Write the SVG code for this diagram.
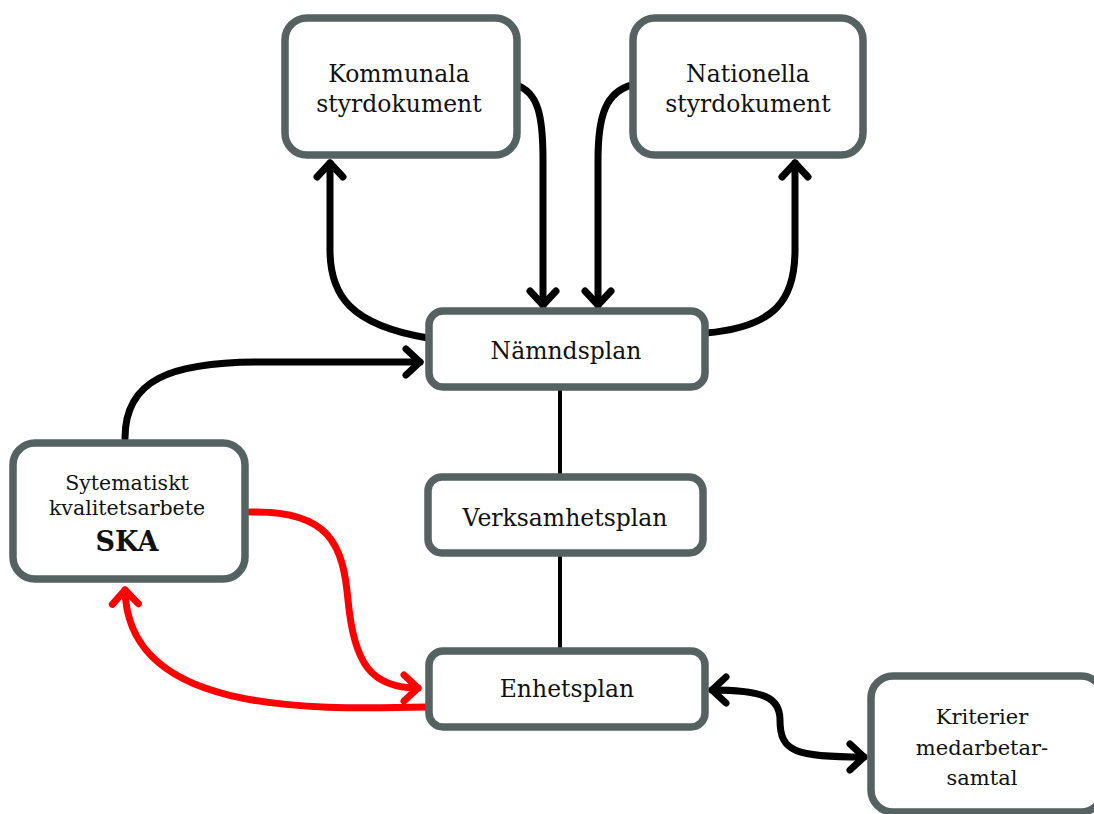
<svg xmlns="http://www.w3.org/2000/svg" width="1094" height="814" viewBox="0 0 1094 814">
<style>
.box{fill:#fff;stroke:#566161;stroke-width:7.5}
.t{font-family:"DejaVu Serif","Liberation Serif",serif;font-size:23.5px;fill:#111;text-anchor:middle}
.s{font-size:20.5px}
.b{font-weight:bold;font-size:27px}
.k{font-size:21px}
.c{fill:none;stroke:#000;stroke-width:7;stroke-linecap:round}
.r{stroke:#f00}
.l{fill:none;stroke:#000;stroke-width:4}
</style>
<defs>
<marker id="ak" markerUnits="userSpaceOnUse" viewBox="-25 -25 50 50" markerWidth="50" markerHeight="50" refX="0" refY="0" orient="auto-start-reverse" overflow="visible">
<path d="M-14,-13 L0,0 L-14,13" fill="none" stroke="#000" stroke-width="7" stroke-linecap="round" stroke-linejoin="round"/>
</marker>
<marker id="ar" markerUnits="userSpaceOnUse" viewBox="-25 -25 50 50" markerWidth="50" markerHeight="50" refX="0" refY="0" orient="auto-start-reverse" overflow="visible">
<path d="M-14,-13 L0,0 L-14,13" fill="none" stroke="#f00" stroke-width="7" stroke-linecap="round" stroke-linejoin="round"/>
</marker>
</defs>
<g id="connectors">
<path class="c" d="M516,85 C538,92 543,115 543,160 L543,305" marker-end="url(#ak)"/>
<path class="c" d="M632,85 C606,92 598,115 598,160 L598,305" marker-end="url(#ak)"/>
<path class="c" d="M428,338 C350,325 330,295 330,250 L330,163" marker-end="url(#ak)"/>
<path class="c" d="M706,333 C775,327 795,300 795,250 L795,163" marker-end="url(#ak)"/>
<path class="c" d="M125,438 C125,380 170,362 260,362 L420,362" marker-end="url(#ak)"/>
<path class="c r" d="M250,512 C330,510 343,545 348,600 C354,665 372,688 418,688" marker-end="url(#ar)"/>
<path class="c r" d="M428,707 C300,710 128,712 125,590" marker-end="url(#ar)"/>
<path class="l" d="M560,390 L560,475 M560,556 L560,649"/>
<path class="c" d="M712,690 C765,690 780,698 780,720 C780,752 795,757 864,757" marker-start="url(#ak)" marker-end="url(#ak)"/>
</g>
<g id="kommunala">
<rect class="box" x="285" y="18" width="232" height="137" rx="22"/>
<text class="t" x="399" y="82">Kommunala</text>
<text class="t" x="399" y="112">styrdokument</text>
</g>
<g id="nationella">
<rect class="box" x="633" y="18" width="230" height="137" rx="22"/>
<text class="t" x="748" y="82">Nationella</text>
<text class="t" x="748" y="112">styrdokument</text>
</g>
<g id="namndsplan">
<rect class="box" x="429" y="311" width="276" height="76" rx="14"/>
<text class="t" x="566" y="359">Nämndsplan</text>
</g>
<g id="verksamhetsplan">
<rect class="box" x="428" y="477" width="275" height="76" rx="14"/>
<text class="t" x="565" y="526">Verksamhetsplan</text>
</g>
<g id="enhetsplan">
<rect class="box" x="429" y="651" width="276" height="76" rx="14"/>
<text class="t" x="567" y="697">Enhetsplan</text>
</g>
<g id="ska">
<rect class="box" x="13" y="443" width="232" height="136" rx="22"/>
<text class="t s" x="127" y="490">Sytematiskt</text>
<text class="t s" x="127" y="515">kvalitetsarbete</text>
<text class="t b" x="127" y="551">SKA</text>
</g>
<g id="kriterier">
<rect class="box" x="871" y="676" width="232" height="136" rx="22"/>
<text class="t k" x="982" y="724">Kriterier</text>
<text class="t k" x="982" y="755">medarbetar-</text>
<text class="t k" x="982" y="785">samtal</text>
</g>
</svg>
